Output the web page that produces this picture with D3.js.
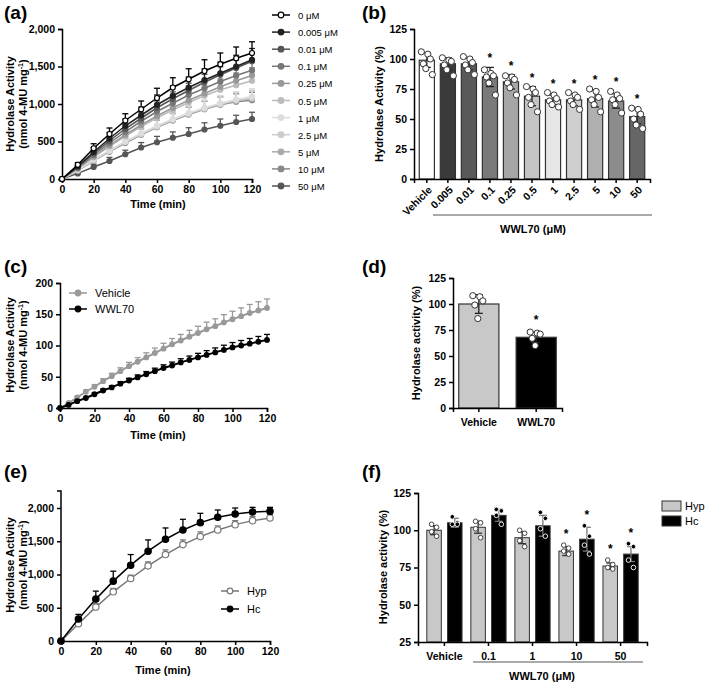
<!DOCTYPE html>
<html><head><meta charset="utf-8">
<script src="https://cdn.jsdelivr.net/npm/d3@7"></script>
<style>body{margin:0;background:#fff}text{font-family:"Liberation Sans",Arial,sans-serif;}</style>
</head><body><svg id="c" width="709" height="684"></svg>
<script>
// ---------- DATA ----------
const timeA = [0,10,20,30,40,50,60,70,80,90,100,110,120];
const concA = ["0 μM","0.005 μM","0.01 μM","0.1 μM","0.25 μM","0.5 μM","1 μM","2.5 μM","5 μM","10 μM","50 μM"];
const seriesA = [
 [0,190,410,600,780,930,1080,1220,1330,1440,1530,1610,1680],
 [0,170,360,540,710,850,990,1110,1220,1320,1410,1500,1590],
 [0,160,340,510,670,810,950,1070,1180,1290,1390,1480,1570],
 [0,150,320,480,630,770,900,1010,1120,1210,1300,1380,1450],
 [0,140,300,450,590,720,840,950,1050,1140,1230,1310,1380],
 [0,135,290,435,570,700,815,920,1020,1110,1190,1250,1310],
 [0,120,260,380,500,610,710,800,880,950,1010,1060,1100],
 [0,118,255,375,495,600,700,790,870,940,1000,1050,1080],
 [0,115,250,370,490,595,695,785,865,935,995,1040,1070],
 [0,112,245,365,480,590,690,780,860,930,990,1030,1050],
 [0,75,160,240,330,420,490,550,600,660,710,760,800]];
const errA = [0,30,60,80,90,110,130,130,140,150,150,150,150];
const catsB = ["Vehicle","0.005","0.01","0.1","0.25","0.5","1","2.5","5","10","50"];
const meanB = [99,96,96,85,81,69,66,66,67,65,52];
const sdB = [6,5,5,8,6,8,4,5,7,6,6];
const ptsB = [[106,104,100,96,92,87],[101,99,98,95,91,86],[102,100,97,95,91,87],[91,88,86,85,80,70],[86,85,83,80,76,70],[77,75,72,68,62,56],[72,70,67,65,62,60],[72,70,68,65,62,58],[75,73,68,66,62,56],[73,70,67,66,62,55],[59,58,54,50,45,42]];
const sigB = [false,false,false,true,true,true,true,true,true,true,true];
const timeC = [0,5,10,15,20,25,30,35,40,45,50,55,60,65,70,75,80,85,90,95,100,105,110,115,120];
const vehC = [0,8,17,26,34,43,51,59,67,74,81,88,95,102,108,114,120,126,131,137,142,147,152,156,160];
const wwlC = [0,5,11,16,22,28,33,39,44,49,54,59,64,68,73,77,81,85,89,93,97,100,103,106,109];
const catsD = ["Vehicle","WWL70"];
const meanD = [100,68];
const sdD = [9,5];
const ptsD = [[108,107,103,99,86],[73,72,71,67,60]];
const timeE = [0,10,20,30,40,50,60,70,80,90,100,110,120];
const hypE = [0,260,510,740,940,1130,1300,1450,1570,1670,1750,1810,1850];
const hcE = [0,330,630,900,1140,1350,1530,1670,1780,1860,1910,1940,1950];
const hypErr = [0,40,50,50,50,60,70,70,70,60,60,60,50];
const hcErr = [0,70,120,150,160,170,170,160,140,110,90,70,60];
const catsF = ["Vehicle","0.1","1","10","50"];
const hypF = [100,102,95,86,76];
const hcF = [105,110,103,94,84];
const hypSd = [3,4,4,3,2];
const hcSd = [3,4,7,8,5];
const hypPts = [[104,102,99,96],[106,105,101,95],[100,98,93,89],[90,88,86,84],[80,77,75,74]];
const hcPts = [[109,105,104,104],[114,113,110,104],[112,108,101,96],[103,96,90,84],[91,89,80,75]];
const sigF = [false,false,false,true,true];

// ---------- HELPERS ----------
const svg = d3.select("#c");
function panelLabel(t,x,y){svg.append("text").attr("x",x).attr("y",y).attr("font-size",19).attr("font-weight","bold").text(t);}
function styleAxis(g){g.selectAll("path,line").attr("stroke","#000").attr("stroke-width",1.5);g.selectAll("text").attr("font-size",10.5).attr("font-weight","bold").attr("fill","#000");}
function yTitle(lines,x,y){const t=svg.append("text").attr("transform",`translate(${x},${y}) rotate(-90)`).attr("text-anchor","middle").attr("font-size",11).attr("font-weight","bold");
 lines.forEach((l,i)=>{const ts=t.append("tspan").attr("x",0).attr("dy",i?13:0);
  if(l.indexOf("^")>=0){const p=l.split("^");ts.text(p[0]);t.append("tspan").attr("dy",-4).attr("font-size",7).text(p[1]);t.append("tspan").attr("dy",4).text(")");} else ts.text(l);});}
function xTitle(t,x,y){svg.append("text").attr("x",x).attr("y",y).attr("text-anchor","middle").attr("font-size",11).attr("font-weight","bold").text(t);}
function lineSeries(x,y,ts,vs,errs,color,fill,r,sw){
 const g=svg.append("g");
 ts.forEach((t,i)=>{ if(!errs[i])return; const yy=y(vs[i]+errs[i]);
  g.append("line").attr("x1",x(t)).attr("x2",x(t)).attr("y1",y(vs[i])).attr("y2",yy).attr("stroke",color).attr("stroke-width",1.3);
  g.append("line").attr("x1",x(t)-3).attr("x2",x(t)+3).attr("y1",yy).attr("y2",yy).attr("stroke",color).attr("stroke-width",1.3);});
 g.append("path").datum(ts.map((t,i)=>[t,vs[i]])).attr("d",d3.line().x(d=>x(d[0])).y(d=>y(d[1]))).attr("fill","none").attr("stroke",color).attr("stroke-width",sw||1.5);
 g.selectAll("circle").data(ts).join("circle").attr("cx",d=>x(d)).attr("cy",(d,i)=>y(vs[i])).attr("r",r).attr("fill",fill).attr("stroke",color).attr("stroke-width",1.2);
}
function legendItem(x,y,label,color,fill,size){svg.append("line").attr("x1",x).attr("x2",x+18).attr("y1",y).attr("y2",y).attr("stroke",color).attr("stroke-width",1.5);
 svg.append("circle").attr("cx",x+9).attr("cy",y).attr("r",2.8).attr("fill",fill).attr("stroke",color).attr("stroke-width",1.2);
 svg.append("text").attr("x",x+26).attr("y",y+4).attr("font-size",size||10).text(label);}
function dots(cx,y,pts,w){pts.forEach((v,i)=>{svg.append("circle").attr("cx",cx+((i%3)-1)*w+(i%2?1:-1)).attr("cy",y(v)).attr("r",3.1).attr("fill","#fff").attr("stroke","#333").attr("stroke-width",1);});}
function errBar(cx,y,m,s,color){svg.append("line").attr("x1",cx).attr("x2",cx).attr("y1",y(m-s)).attr("y2",y(m+s)).attr("stroke",color).attr("stroke-width",1.3);
 [m-s,m+s].forEach(v=>svg.append("line").attr("x1",cx-4).attr("x2",cx+4).attr("y1",y(v)).attr("y2",y(v)).attr("stroke",color).attr("stroke-width",1.3));}
function star(cx,yy){svg.append("text").attr("x",cx).attr("y",yy).attr("text-anchor","middle").attr("font-size",12).attr("font-weight","bold").text("*");}

// ---------- (a) ----------
panelLabel("(a)",4,19);
{const x=d3.scaleLinear().domain([0,120]).range([62,252]);const y=d3.scaleLinear().domain([0,2000]).range([179,29]);
 const colA=["#000","#222","#555","#777","#999","#bbb","#ddd","#ccc","#aaa","#888","#555"];
 styleAxis(svg.append("g").attr("transform","translate(0,179)").call(d3.axisBottom(x).tickValues(d3.range(0,121,20)).tickSize(4)));
 styleAxis(svg.append("g").attr("transform","translate(62,0)").call(d3.axisLeft(y).tickValues(d3.range(0,2001,500)).tickFormat(d3.format(",")).tickSize(4)));
 for(let k=seriesA.length-1;k>=0;k--){lineSeries(x,y,timeA,seriesA[k],errA.map(e=>k==0||k==1||k==10?e*(k==10?0.6:1):e*0.7),colA[k],k==0?"#fff":colA[k],2.5,1.5);}
 yTitle(["Hydrolase Activity","(nmol 4-MU mg^-1"],14,104);
 xTitle("Time (min)",158,208);
 concA.forEach((c,i)=>legendItem(272,15+i*17.1,c,colA[i],i==0?"#fff":colA[i],9.5));
}
// ---------- (b) ----------
panelLabel("(b)",362,19);
{const x=d3.scaleBand().domain(catsB).range([414,650]).paddingInner(0.28).paddingOuter(0.25);const y=d3.scaleLinear().domain([0,125]).range([179,29]);
 const colB=["#fff","#3a3a3a","#595959","#7a7a7a","#a6a6a6","#c4c4c4","#e6e6e6","#cfcfcf","#b0b0b0","#8c8c8c","#666"];
 catsB.forEach((c,i)=>{const cx=x(c)+x.bandwidth()/2;
  svg.append("rect").attr("x",x(c)).attr("y",y(meanB[i])).attr("width",x.bandwidth()).attr("height",y(0)-y(meanB[i])).attr("fill",colB[i]).attr("stroke","#333").attr("stroke-width",1.2);
  errBar(cx,y,meanB[i],sdB[i],"#222"); dots(cx,y,ptsB[i],4.5);
  if(sigB[i]) star(cx,y(Math.max(meanB[i]+sdB[i],d3.max(ptsB[i])))-5);});
 styleAxis(svg.append("g").attr("transform","translate(0,179)").call(d3.axisBottom(x).tickSize(4)).call(g=>g.selectAll("text").attr("transform","rotate(-45)").attr("text-anchor","end").attr("dx","-0.4em").attr("dy","0.5em")));
 styleAxis(svg.append("g").attr("transform","translate(414,0)").call(d3.axisLeft(y).tickValues(d3.range(0,126,25)).tickSize(4)));
 yTitle(["Hydrolase Activity (%)"],383,104);
 svg.append("line").attr("x1",433).attr("x2",652).attr("y1",215).attr("y2",215).attr("stroke","#555").attr("stroke-width",1);
 xTitle("WWL70 (μM)",533,233);
}
// ---------- (c) ----------
panelLabel("(c)",4,273);
{const x=d3.scaleLinear().domain([0,120]).range([60,267]);const y=d3.scaleLinear().domain([0,200]).range([408,283]);
 styleAxis(svg.append("g").attr("transform","translate(0,408)").call(d3.axisBottom(x).tickValues(d3.range(0,121,20)).tickSize(4)));
 styleAxis(svg.append("g").attr("transform","translate(60,0)").call(d3.axisLeft(y).tickValues(d3.range(0,201,50)).tickSize(4)));
 lineSeries(x,y,timeC,vehC,vehC.map(v=>v*0.09),"#999","#999",2.3,2);
 lineSeries(x,y,timeC,wwlC,wwlC.map(v=>v*0.08),"#000","#000",2.3,2);
 yTitle(["Hydrolase Activity","(nmol 4-MU mg^-1"],14,345);
 xTitle("Time (min)",158,439);
 legendItem(69,293,"Vehicle","#999","#999",11);legendItem(69,309,"WWL70","#000","#000",11);
}
// ---------- (d) ----------
panelLabel("(d)",362,273);
{const x=d3.scaleBand().domain(catsD).range([453,562]).paddingInner(0.3).paddingOuter(0.1);const y=d3.scaleLinear().domain([0,125]).range([408,278]);
 const colD=["#c8c8c8","#000"];
 catsD.forEach((c,i)=>{const cx=x(c)+x.bandwidth()/2;
  svg.append("rect").attr("x",x(c)).attr("y",y(meanD[i])).attr("width",x.bandwidth()).attr("height",y(0)-y(meanD[i])).attr("fill",colD[i]).attr("stroke","#333").attr("stroke-width",1.2);
  errBar(cx,y,meanD[i],sdD[i],"#222"); dots(cx,y,ptsD[i],5);});
 star(x("WWL70")+x.bandwidth()/2,y(79)-2);
 styleAxis(svg.append("g").attr("transform","translate(0,408)").call(d3.axisBottom(x).tickSize(4)).call(g=>g.selectAll("text").attr("font-size",11).attr("dy","1em")));
 styleAxis(svg.append("g").attr("transform","translate(453,0)").call(d3.axisLeft(y).tickValues(d3.range(0,126,25)).tickSize(4)));
 yTitle(["Hydrolase activity (%)"],420,343);
}
// ---------- (e) ----------
panelLabel("(e)",4,478);
{const x=d3.scaleLinear().domain([0,120]).range([61,270]);const y=d3.scaleLinear().domain([0,2000]).range([641,508]);
 styleAxis(svg.append("g").attr("transform","translate(0,641)").call(d3.axisBottom(x).tickValues(d3.range(0,121,20)).tickSize(4)));
 styleAxis(svg.append("g").attr("transform","translate(61,0)").call(d3.axisLeft(y).tickValues(d3.range(0,2001,500)).tickFormat(d3.format(",")).tickSize(4)).call(g=>g.select("path").attr("d","M-4,491H0V641H-4")));
 lineSeries(x,y,timeE,hypE,hypErr,"#777","#fff",3.2,1.5);
 lineSeries(x,y,timeE,hcE,hcErr,"#000","#000",3.2,1.5);
 yTitle(["Hydrolase Activity","(nmol 4-MU mg^-1"],14,565);
 xTitle("Time (min)",163,674);
 legendItem(221,591,"Hyp","#777","#fff",11);legendItem(221,609,"Hc","#000","#000",11);
}
// ---------- (f) ----------
panelLabel("(f)",362,478);
{const x0=d3.scaleBand().domain(catsF).range([418,647]).paddingInner(0.2).paddingOuter(0.2);const x1=d3.scaleBand().domain(["Hyp","Hc"]).range([0,x0.bandwidth()]).paddingInner(0.3);
 const y=d3.scaleLinear().domain([25,125]).range([642,493]);
 catsF.forEach((c,i)=>{[["Hyp",hypF,hypSd,hypPts,"#c8c8c8"],["Hc",hcF,hcSd,hcPts,"#000"]].forEach(([k,m,s,p,col])=>{
  const bx=x0(c)+x1(k);const cx=bx+x1.bandwidth()/2;
  svg.append("rect").attr("x",bx).attr("y",y(m[i])).attr("width",x1.bandwidth()).attr("height",y(25)-y(m[i])).attr("fill",col).attr("stroke","#333").attr("stroke-width",1);
  errBar(cx,y,m[i],s[i],k=="Hc"?"#777":"#333");
  p[i].forEach((v,j)=>svg.append("circle").attr("cx",cx+(j%2?2.5:-2.5)).attr("cy",y(v)).attr("r",2.3).attr("fill",k=="Hc"?"#000":"#fff").attr("stroke",k=="Hc"?"#fff":"#333").attr("stroke-width",0.9));
  if(sigF[i]) star(cx,y(Math.max(m[i]+s[i],d3.max(p[i][0]!==undefined?p[i]:[0])))-7);});});
 styleAxis(svg.append("g").attr("transform","translate(0,642)").call(d3.axisBottom(x0).tickSize(4)).call(g=>g.selectAll("text").attr("font-size",11).attr("dy","1em")));
 styleAxis(svg.append("g").attr("transform","translate(418,0)").call(d3.axisLeft(y).tickValues(d3.range(25,126,25)).tickSize(4)));
 yTitle(["Hydrolase activity (%)"],387,567);
 svg.append("line").attr("x1",473).attr("x2",643).attr("y1",662).attr("y2",662).attr("stroke","#555").attr("stroke-width",1);
 xTitle("WWL70 (μM)",542,680);
 [["Hyp","#c8c8c8"],["Hc","#000"]].forEach(([k,c],i)=>{svg.append("rect").attr("x",662).attr("y",501+i*15).attr("width",19).attr("height",10).attr("fill",c).attr("stroke","#333");
  svg.append("text").attr("x",685).attr("y",510+i*15).attr("font-size",11).text(k);});
}
</script></body></html>
